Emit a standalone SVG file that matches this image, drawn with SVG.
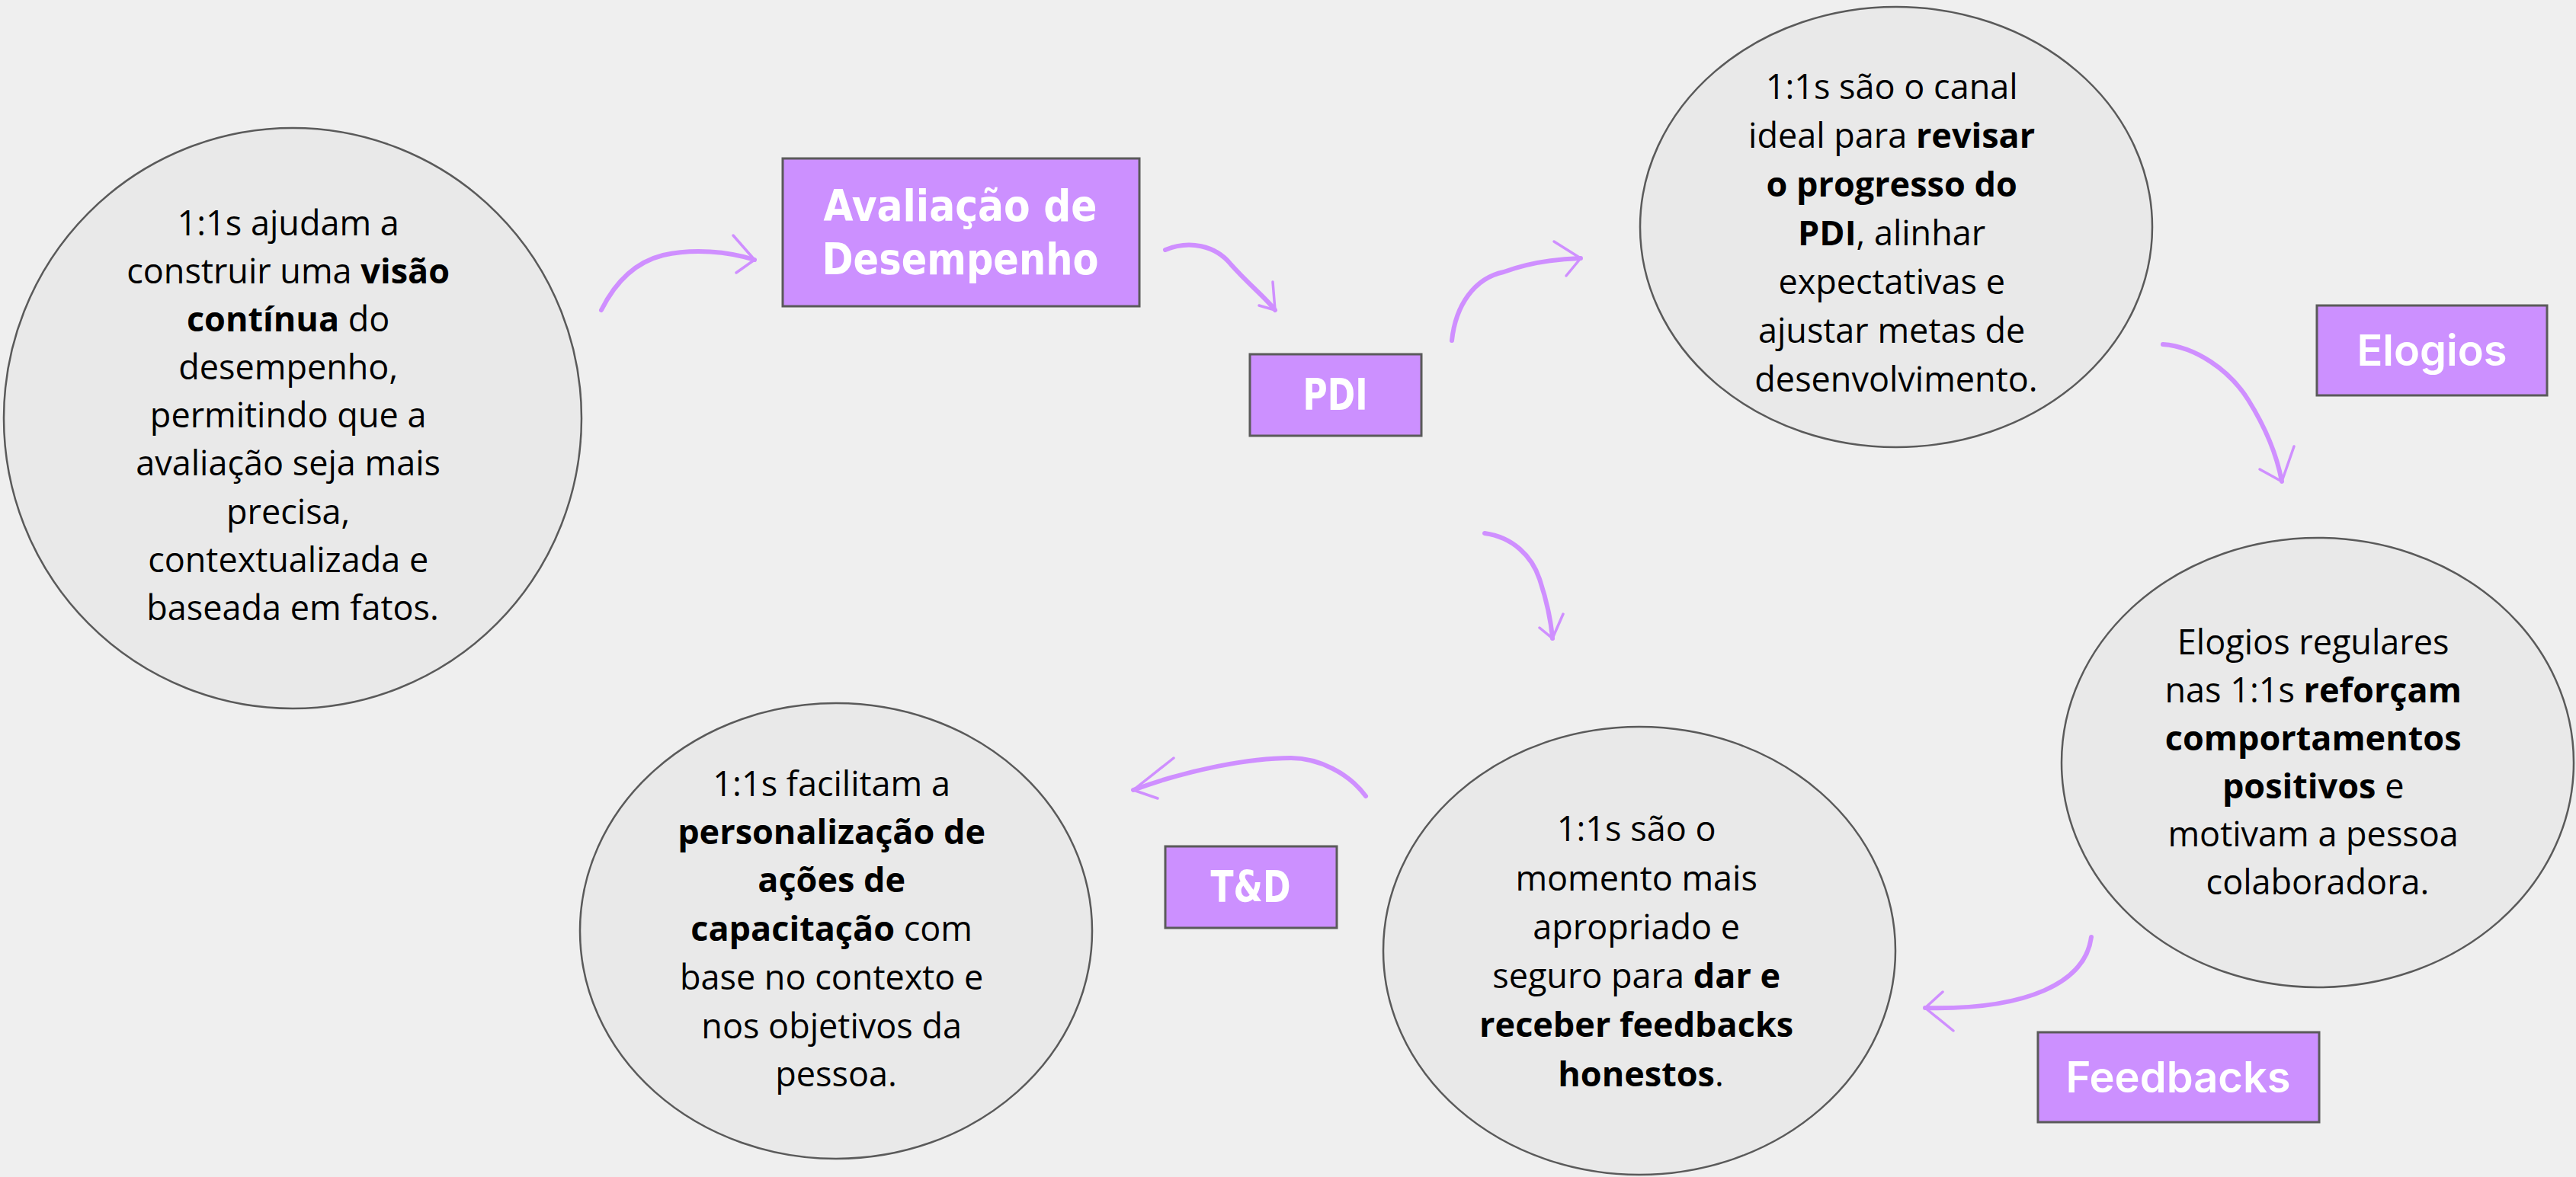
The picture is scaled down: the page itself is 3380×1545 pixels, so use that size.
<svg xmlns="http://www.w3.org/2000/svg" width="3380" height="1545" viewBox="0 0 3380 1545">
<style>
.bg{fill:#efefef}
.ell{fill:#e9e9e9;stroke:#5a5a5a;stroke-width:2.5}
.box{fill:#cc90ff;stroke:#5a5a5a;stroke-width:3}
.t{font-family:"Open Sans","Liberation Sans",sans-serif;font-size:45px;fill:#000;text-anchor:middle}
.b{font-weight:bold}
.lbl{font-family:"DejaVu Sans","Liberation Sans",sans-serif;font-weight:bold;font-size:57px;fill:#fff;text-anchor:middle}
.lbl2{font-family:Inter,"Liberation Sans",sans-serif;font-weight:600;font-size:56px;fill:#fff;text-anchor:middle}
.arr{fill:none;stroke:#cf8fff;stroke-width:6;stroke-linecap:round;stroke-linejoin:round}
.barb{fill:none;stroke:#cf8fff;stroke-width:3.5;stroke-linecap:round;stroke-linejoin:round}
</style>
<rect class="bg" x="0" y="0" width="3380" height="1545"/>

<g id="connectors">
  <path class="arr" d="M789,407 C805,375 830,345 870,335 C910,326 955,330 990,341"/>
  <path class="barb" d="M962,309 L990,341 L966,358"/>
  <path class="arr" d="M1529,328 C1560,315 1595,322 1615,347 C1640,375 1660,390 1673,407"/>
  <path class="barb" d="M1670,370 L1673,407 L1652,401"/>
  <path class="arr" d="M1905,447 C1910,400 1935,365 1973,357 C2005,345 2040,340 2074,339"/>
  <path class="barb" d="M2039,317 L2074,339 L2055,362"/>
  <path class="arr" d="M2838,452 C2880,455 2925,485 2950,525 C2975,565 2988,600 2994,632"/>
  <path class="barb" d="M3010,586 L2994,632 L2965,616"/>
  <path class="arr" d="M1948,700 C1985,705 2010,730 2020,760 C2030,790 2035,815 2037,838"/>
  <path class="barb" d="M2051,806 L2037,838 L2020,824"/>
  <path class="arr" d="M2744,1230 C2736,1290 2660,1326 2526,1323"/>
  <path class="barb" d="M2549,1302 L2526,1323 L2563,1353"/>
  <path class="arr" d="M1792,1045 C1770,1015 1730,995 1694,995 C1640,995 1560,1010 1487,1037"/>
  <path class="barb" d="M1540,995 L1487,1037 L1519,1048"/>
</g>

<g id="n-visao">
  <ellipse class="ell" cx="384" cy="549" rx="379" ry="381"/>
  <text class="t">
    <tspan x="384" y="309">1:1s ajudam a</tspan>
    <tspan x="384" y="372">construir uma <tspan class="b">visão</tspan></tspan>
    <tspan x="384" y="435"><tspan class="b">contínua</tspan> do</tspan>
    <tspan x="384" y="498">desempenho,</tspan>
    <tspan x="384" y="561">permitindo que a</tspan>
    <tspan x="384" y="624">avaliação seja mais</tspan>
    <tspan x="384" y="688">precisa,</tspan>
    <tspan x="384" y="751">contextualizada e</tspan>
    <tspan x="384" y="814">baseada em fatos.</tspan>
  </text>
</g>

<g id="n-avaliacao">
  <rect class="box" x="1027" y="208" width="468" height="194"/>
  <text class="lbl" x="1260" y="290" textLength="359" lengthAdjust="spacingAndGlyphs">Avaliação de</text>
  <text class="lbl" x="1260" y="360" textLength="363" lengthAdjust="spacingAndGlyphs">Desempenho</text>
</g>

<g id="n-pdi">
  <rect class="box" x="1640" y="465" width="225" height="107"/>
  <text class="lbl" x="1752" y="538" textLength="85" lengthAdjust="spacingAndGlyphs">PDI</text>
</g>

<g id="n-progresso">
  <ellipse class="ell" cx="2488" cy="298" rx="336" ry="289"/>
  <text class="t">
    <tspan x="2488" y="130">1:1s são o canal</tspan>
    <tspan x="2488" y="194">ideal para <tspan class="b">revisar</tspan></tspan>
    <tspan x="2488" y="258"><tspan class="b">o progresso do</tspan></tspan>
    <tspan x="2488" y="322"><tspan class="b">PDI</tspan>, alinhar</tspan>
    <tspan x="2488" y="386">expectativas e</tspan>
    <tspan x="2488" y="450">ajustar metas de</tspan>
    <tspan x="2488" y="514">desenvolvimento.</tspan>
  </text>
</g>

<g id="n-elogios">
  <rect class="box" x="3040" y="401" width="302" height="118"/>
  <text class="lbl2" x="3191" y="480">Elogios</text>
</g>

<g id="n-reforco">
  <ellipse class="ell" cx="3041" cy="1001" rx="336" ry="295"/>
  <text class="t">
    <tspan x="3041" y="859">Elogios regulares</tspan>
    <tspan x="3041" y="922">nas 1:1s <tspan class="b">reforçam</tspan></tspan>
    <tspan x="3041" y="985"><tspan class="b">comportamentos</tspan></tspan>
    <tspan x="3041" y="1048"><tspan class="b">positivos</tspan> e</tspan>
    <tspan x="3041" y="1111">motivam a pessoa</tspan>
    <tspan x="3041" y="1174">colaboradora.</tspan>
  </text>
</g>

<g id="n-feedbacks">
  <rect class="box" x="2674" y="1355" width="369" height="118"/>
  <text class="lbl2" x="2858" y="1434">Feedbacks</text>
</g>

<g id="n-momento">
  <ellipse class="ell" cx="2151" cy="1248" rx="336" ry="294"/>
  <text class="t">
    <tspan x="2153" y="1104">1:1s são o</tspan>
    <tspan x="2153" y="1169">momento mais</tspan>
    <tspan x="2153" y="1233">apropriado e</tspan>
    <tspan x="2153" y="1297">seguro para <tspan class="b">dar e</tspan></tspan>
    <tspan x="2153" y="1361"><tspan class="b">receber feedbacks</tspan></tspan>
    <tspan x="2153" y="1426"><tspan class="b">honestos</tspan>.</tspan>
  </text>
</g>

<g id="n-td">
  <rect class="box" x="1529" y="1111" width="225" height="107"/>
  <text class="lbl" x="1641" y="1184" textLength="105" lengthAdjust="spacingAndGlyphs">T&amp;D</text>
</g>

<g id="n-capacitacao">
  <ellipse class="ell" cx="1097" cy="1222" rx="336" ry="299"/>
  <text class="t">
    <tspan x="1097" y="1045">1:1s facilitam a</tspan>
    <tspan x="1097" y="1108"><tspan class="b">personalização de</tspan></tspan>
    <tspan x="1097" y="1171"><tspan class="b">ações de</tspan></tspan>
    <tspan x="1097" y="1235"><tspan class="b">capacitação</tspan> com</tspan>
    <tspan x="1097" y="1299">base no contexto e</tspan>
    <tspan x="1097" y="1363">nos objetivos da</tspan>
    <tspan x="1097" y="1426">pessoa.</tspan>
  </text>
</g>
</svg>
